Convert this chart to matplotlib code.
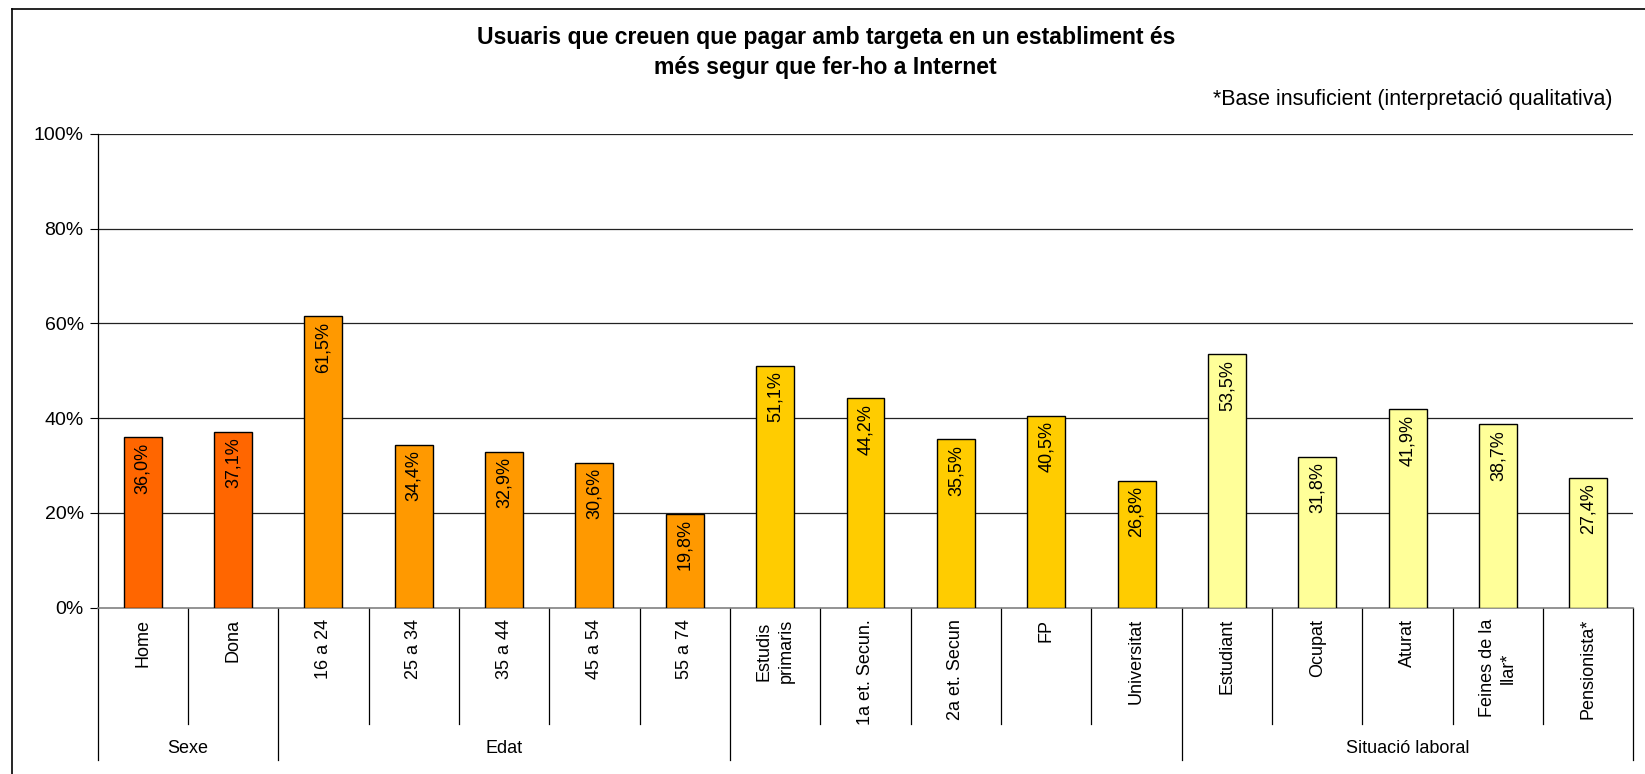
import matplotlib
matplotlib.use("Agg")
import matplotlib.pyplot as plt
from matplotlib.lines import Line2D
import matplotlib.transforms as mtransforms

plt.rcParams['font.family'] = ['Liberation Sans', 'DejaVu Sans']

categories = ["Home", "Dona", "16 a 24", "25 a 34", "35 a 44", "45 a 54", "55 a 74",
              "Estudis\nprimaris", "1a et. Secun.", "2a et. Secun", "FP", "Universitat",
              "Estudiant", "Ocupat", "Aturat", "Feines de la\nllar*", "Pensionista*"]
values = [36.0, 37.1, 61.5, 34.4, 32.9, 30.6, 19.8,
          51.1, 44.2, 35.5, 40.5, 26.8,
          53.5, 31.8, 41.9, 38.7, 27.4]
groups = ["Sexe", "Edat", "", "Situació laboral"]
group_sizes = [2, 5, 5, 5]
group_colors = ["#FF6600", "#FF9900", "#FFCC00", "#FFFF99"]

title = "Usuaris que creuen que pagar amb targeta en un establiment és\nmés segur que fer-ho a Internet"
note = "*Base insuficient (interpretació qualitativa)"

colors = []
for c, n in zip(group_colors, group_sizes):
    colors += [c] * n

fig = plt.figure(figsize=(16.45, 7.74), dpi=100)
ax = fig.add_axes([0.0593, 0.215, 0.9337, 0.612])

xs = list(range(len(values)))
bars = ax.bar(xs, values, width=0.42, color=colors, edgecolor="black", linewidth=1.0, zorder=3)

for x, v in zip(xs, values):
    ax.annotate(f"{v:.1f}%".replace(".", ","), (x, v), xytext=(0, -4),
                textcoords="offset points", rotation=90, ha="center", va="top",
                fontsize=13, zorder=4)

ax.set_xlim(-0.5, len(values) - 0.5)
ax.set_ylim(0, 100)
ax.set_yticks([0, 20, 40, 60, 80, 100])
ax.set_yticklabels([f"{t}%" for t in [0, 20, 40, 60, 80, 100]], fontsize=14)
ax.tick_params(axis="y", length=6, width=0.8, pad=4)
ax.set_xticks([])
for y in [20, 40, 60, 80, 100]:
    ax.axhline(y, color="#222222", linewidth=0.9, zorder=1)

for s in ["top", "right"]:
    ax.spines[s].set_visible(False)
ax.spines["left"].set_linewidth(0.9)
ax.spines["bottom"].set_color("#808080")
ax.spines["bottom"].set_linewidth(1.2)

trans = mtransforms.blended_transform_factory(ax.transData, ax.transAxes)

# category labels and separators
for x, lab in zip(xs, categories):
    ax.text(x, -0.024, lab, rotation=90, ha="center", va="top", fontsize=13,
            multialignment="center", linespacing=1.35, transform=trans)

edges = [0]
for n in group_sizes:
    edges.append(edges[-1] + n)

for i in range(len(values) + 1):
    xe = i - 0.5
    bottom = -0.322 if i in edges else -0.246
    ax.add_line(Line2D([xe, xe], [0, bottom], transform=trans, color="black",
                       linewidth=0.9, clip_on=False))

for g, a, b in zip(groups, edges[:-1], edges[1:]):
    ax.text((a + b - 1) / 2, -0.297, g, ha="center", va="center", fontsize=13,
            transform=trans)

fig.text(0.502, 0.932, title, ha="center", va="center", fontsize=16.6,
         fontweight="bold", linespacing=1.35)
fig.text(0.980, 0.871, note, ha="right", va="center", fontsize=15.5)

# outer border (left and top)
fig.add_artist(Line2D([0.0073, 0.0073], [0, 0.988], transform=fig.transFigure,
                      color="black", linewidth=1.2))
fig.add_artist(Line2D([0.0073, 1], [0.988, 0.988], transform=fig.transFigure,
                      color="black", linewidth=1.2))

fig.savefig("out.png", dpi=100)
